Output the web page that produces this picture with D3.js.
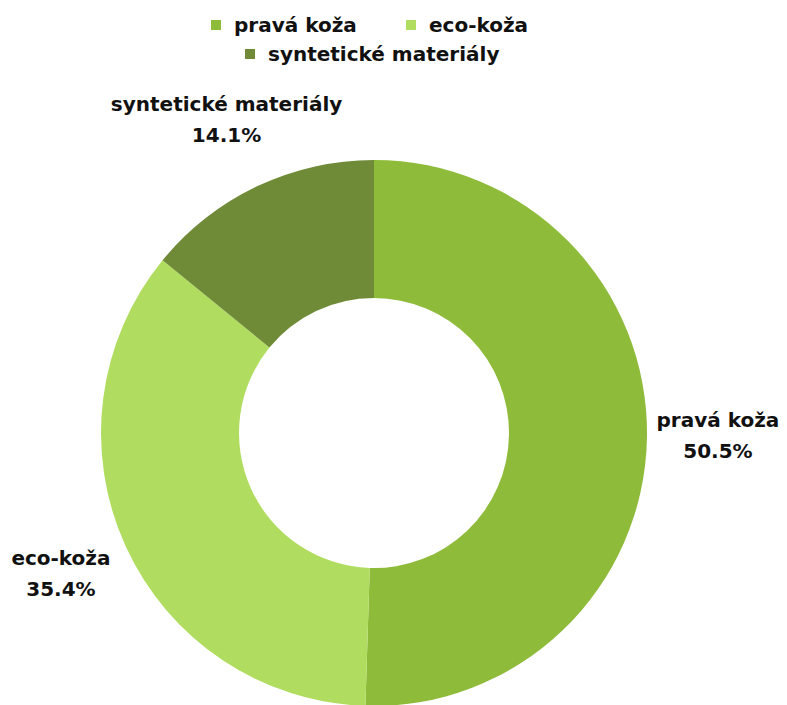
<!DOCTYPE html>
<html>
<head>
<meta charset="utf-8">
<script src="https://cdn.jsdelivr.net/npm/d3@7"></script>
<style>
  html, body { margin: 0; padding: 0; background: #ffffff; }
  svg { display: block; }
  text { font-family: "DejaVu Sans", sans-serif; font-weight: bold; fill: #111111; }
</style>
</head>
<body>
<svg id="chart" width="787" height="705"></svg>
<script>
// Material shares (percent)
const categories = ["pravá koža", "eco-koža", "syntetické materiály"];
const values = [50.5, 35.4, 14.1];
const colors = ["#8EBB3A", "#B0DD5F", "#6F8B38"];

const svg = d3.select("#chart");
const cx = 374, cy = 433;
const outerR = 273, innerR = 135, labelR = 344;

const color = d3.scaleOrdinal().domain(categories).range(colors);

const pie = d3.pie().sort(null).value(d => d.value);
const data = pie(categories.map((c, i) => ({ name: c, value: values[i] })));

const arc = d3.arc().innerRadius(innerR).outerRadius(outerR);
const labelArc = d3.arc().innerRadius(labelR).outerRadius(labelR);

const g = svg.append("g").attr("transform", `translate(${cx},${cy})`);

g.selectAll("path.slice")
  .data(data)
  .join("path")
  .attr("class", "slice")
  .attr("d", arc)
  .attr("fill", d => color(d.data.name));

// Slice labels: name and percentage, centred on the slice's mid-angle
const labels = g.selectAll("text.slice-label")
  .data(data)
  .join("text")
  .attr("class", "slice-label")
  .attr("text-anchor", "middle")
  .attr("font-size", 20)
  .attr("transform", d => {
    const [x, y] = labelArc.centroid(d);
    return `translate(${x},${y})`;
  });
labels.append("tspan").attr("x", 0).attr("dy", "-0.55em").text(d => d.data.name);
labels.append("tspan").attr("x", 0).attr("dy", "1.55em").text(d => d.data.value.toFixed(1) + "%");

// Legend: two items on the first row, one centred on the second
const legendRows = [
  [{ name: categories[0], x: 211 }, { name: categories[1], x: 406 }],
  [{ name: categories[2], x: 245 }]
];
const legend = svg.append("g").attr("class", "legend");
legendRows.forEach((row, ri) => {
  const y = 25 + ri * 29;
  row.forEach(item => {
    const li = legend.append("g").attr("transform", `translate(${item.x},${y})`);
    li.append("rect")
      .attr("x", 0).attr("y", -5)
      .attr("width", 10).attr("height", 10)
      .attr("fill", color(item.name));
    li.append("text")
      .attr("x", 23).attr("y", 0)
      .attr("dy", "0.35em")
      .attr("font-size", 20)
      .text(item.name);
  });
});
</script>
</body>
</html>
